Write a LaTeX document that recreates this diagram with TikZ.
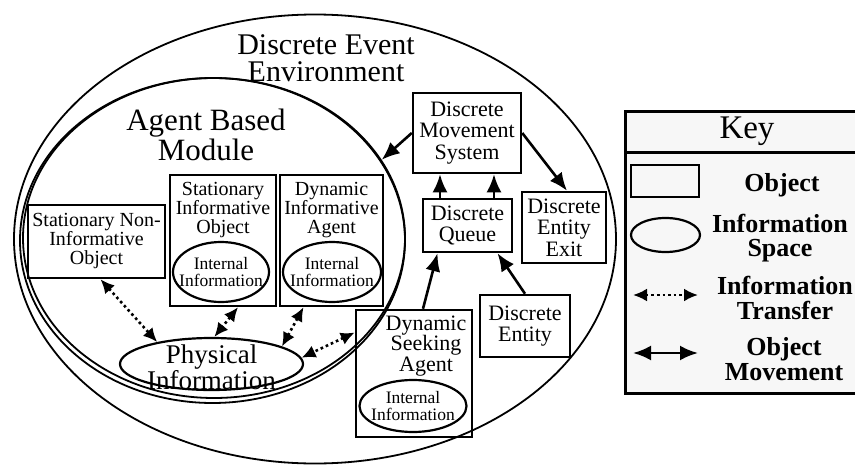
\documentclass[tikz,border=0pt]{standalone}
\usepackage{fontspec}
\setmainfont{Liberation Serif}
\usetikzlibrary{arrows.meta,positioning,shapes.geometric}

\tikzset{
  region/.style={draw, ellipse, line width=1.8pt, inner sep=0pt},
  objbox/.style={draw, rectangle, line width=2.5pt, inner sep=0pt, align=center},
  infospace/.style={draw, ellipse, line width=2.2pt, inner sep=0pt},
  boxtext/.style={align=center, inner sep=0pt, font=\fontsize{20}{19}\selectfont},
  disctext/.style={font=\fontsize{22}{21.5}\selectfont},
  intext/.style={align=center, inner sep=0pt, font=\fontsize{17.5}{17}\selectfont},
  bigtext/.style={align=center, inner sep=0pt, font=\fontsize{30}{27}\selectfont},
  keytext/.style={align=center, inner sep=0pt, font=\bfseries\fontsize{26}{24.5}\selectfont},
  objmove/.style={line width=2.6pt, -{Latex[length=18pt,width=15pt]}},
  infotransfer/.style={line width=2.6pt, dash pattern=on 2.6pt off 3pt,
    {Latex[length=14pt,width=13pt]}-{Latex[length=14pt,width=13pt]}},
}

\begin{document}
\begin{tikzpicture}[x=1pt,y=-1pt]
    \useasboundingbox[fill=white] (0,0) rectangle (855,469);
    % discrete event environment
    \node[region, minimum width=602pt, minimum height=449pt] (dee) at (315,239) {};
    \node[bigtext] (deetext) at (326,58) {Discrete Event\\Environment};
    % agent based module (drawn twice)
    \node[region, minimum width=385pt, minimum height=325pt] (abmb) at (212.5,240.5) {};
    \node[region, minimum width=382pt, minimum height=320pt] (abm) at (214,238) {};
    \node[bigtext, font=\fontsize{31}{30}\selectfont] (abmtext) at (206,135) {Agent Based\\Module};
    % objects in the module
    \node[objbox, boxtext, minimum width=137pt, minimum height=73pt] (sni) at (96.5,241.5)
        {Stationary Non-\\Informative\\Object};
    \node[objbox, minimum width=106pt, minimum height=131pt] (sio) at (223,240.5) {};
    \node[boxtext] (siotext) at (223,210) {Stationary\\Informative\\Object};
    \node[infospace, minimum width=96pt, minimum height=60pt,
        label={[intext]center:Internal\\Information}] (sioinfo) at (221,272) {};
    \node[objbox, minimum width=103pt, minimum height=131pt] (dia) at (331.5,240.5) {};
    \node[boxtext] (diatext) at (331.5,210) {Dynamic\\Informative\\Agent};
    \node[infospace, minimum width=98pt, minimum height=60pt,
        label={[intext]center:Internal\\Information}] (diainfo) at (332,272) {};
    % physical information
    \node[infospace, minimum width=183pt, minimum height=52pt,
        label={[bigtext, font=\fontsize{27}{23}\selectfont, yshift=-3pt]center:Physical\\Information}]
        (phys) at (211.5,364) {};
    % discrete event parts
    \node[objbox, disctext, minimum width=108pt, minimum height=80pt] (dms) at (467,133)
        {Discrete\\Movement\\System};
    \node[objbox, disctext, minimum width=89pt, minimum height=53pt] (queue) at (467.5,225.5)
        {Discrete\\Queue};
    \node[objbox, disctext, minimum width=84pt, minimum height=71pt] (exit) at (564,227.5)
        {Discrete\\Entity\\Exit};
    \node[objbox, disctext, minimum width=90pt, minimum height=62pt] (entity) at (525,326)
        {Discrete\\Entity};
    \node[objbox, minimum width=116pt, minimum height=127pt] (dsa) at (414,373.5) {};
    \node[boxtext, disctext, font=\fontsize{22}{20.5}\selectfont] (dsatext) at (426,346)
        {Dynamic\\Seeking\\Agent};
    \node[infospace, minimum width=107pt, minimum height=52pt,
        label={[intext]center:Internal\\Information}] (dsainfo) at (413,406) {};
    % object movement
    \draw[objmove] (dms.west) -- (abm.25);
    \draw[objmove] ([xshift=-27.5pt]queue.north) -- ([xshift=-27.5pt]queue.north |- dms.south);
    \draw[objmove] ([xshift=26.5pt]queue.north) -- ([xshift=26.5pt]queue.north |- dms.south);
    \draw[objmove] (dms.east) -- ([xshift=3pt]exit.north);
    \draw[objmove] ([xshift=9pt]dsa.north) -- ([xshift=-30pt]queue.south);
    \draw[objmove] (entity.north) -- ([xshift=30pt]queue.south);
    % information transfer
    \draw[infotransfer] ([xshift=4pt]sni.south) -- (phys.158);
    \draw[infotransfer] ([xshift=15pt]sio.south) -- (phys.84);
    \draw[infotransfer] ([xshift=-28pt]dia.south) -- (phys.14);
    \draw[infotransfer] ([yshift=41pt]dsa.west) -- (phys.4);
    % key
    \draw[line width=3pt, fill=gray!6] (625,111) rectangle (862,393);
    \draw[line width=3pt] (625,152) -- (862,152);
    \node[bigtext, font=\fontsize{33}{33}\selectfont] (keytitle) at (747,131) {Key};
    \node[objbox, minimum width=68pt, minimum height=32pt] (keybox) at (665,181) {};
    \node[keytext] (keyobj) at (782,185) {Object};
    \node[infospace, minimum width=69pt, minimum height=34pt] (keyell) at (665.5,235) {};
    \node[keytext] (keyspace) at (780,238) {Information\\Space};
    \coordinate (kta) at (633,295);
    \coordinate (ktb) at (698,295);
    \draw[infotransfer] (kta) -- (ktb);
    \node[keytext] (keytrans) at (785,298) {Information\\Transfer};
    \coordinate (kma) at (633,353);
    \coordinate (kmb) at (698,353);
    \draw[objmove, {Latex[length=18pt,width=15pt]}-{Latex[length=18pt,width=15pt]}] (kma) -- (kmb);
    \node[keytext] (keymove) at (784,359) {Object\\Movement};
\end{tikzpicture}
\end{document}
